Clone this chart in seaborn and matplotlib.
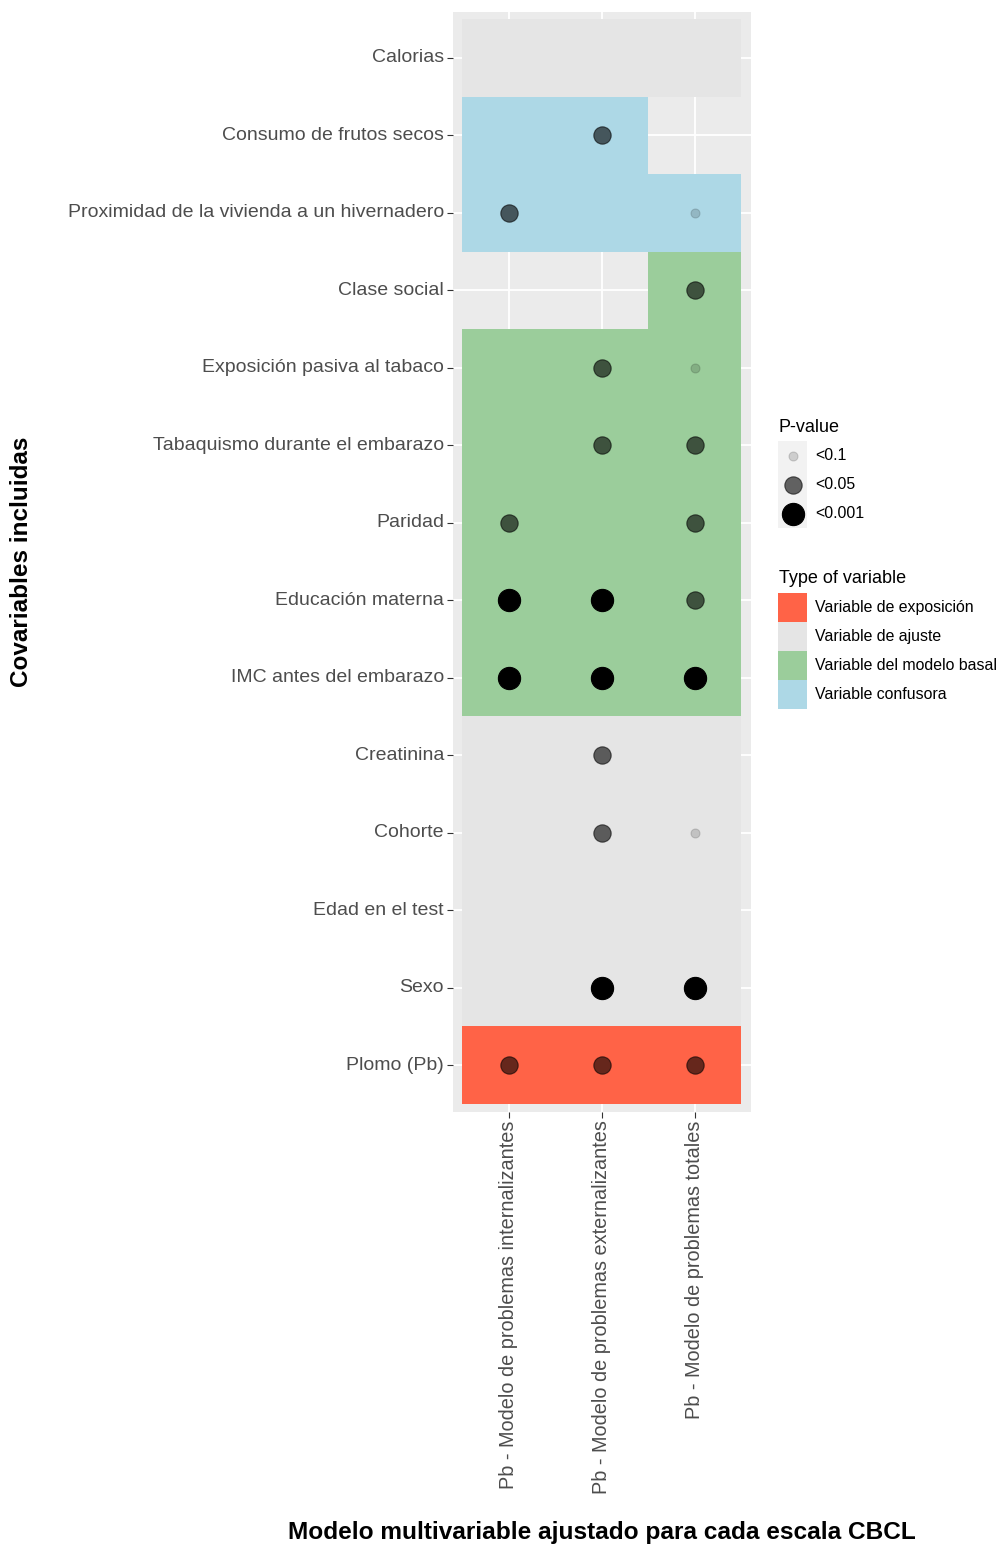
import numpy as np
import pandas as pd
import matplotlib
matplotlib.use("Agg")
import matplotlib.pyplot as plt
from matplotlib.colors import ListedColormap
from matplotlib.patches import Patch
from matplotlib.lines import Line2D
from matplotlib.legend_handler import HandlerTuple, HandlerLine2D
import seaborn as sns

plt.rcParams["font.family"] = ["Liberation Sans", "DejaVu Sans"]

# ---- data -------------------------------------------------------------
covariables = [
    "Calorias",
    "Consumo de frutos secos",
    "Proximidad de la vivienda a un hivernadero",
    "Clase social",
    "Exposición pasiva al tabaco",
    "Tabaquismo durante el embarazo",
    "Paridad",
    "Educación materna",
    "IMC antes del embarazo",
    "Creatinina",
    "Cohorte",
    "Edad en el test",
    "Sexo",
    "Plomo (Pb)",
]

modelos = [
    "Pb - Modelo de problemas internalizantes",
    "Pb - Modelo de problemas externalizantes",
    "Pb - Modelo de problemas totales",
]

tipos = [
    "Variable de exposición",
    "Variable de ajuste",
    "Variable del modelo basal",
    "Variable confusora",
]
colores_tipo = ["#FF6347", "#E5E5E5", "#9BCD9B", "#ADD8E6"]

EXP, AJ, BAS, CONF = tipos
tipo_internalizantes = [AJ, CONF, CONF, None, BAS, BAS, BAS, BAS, BAS, AJ, AJ, AJ, AJ, EXP]
tipo_externalizantes = [AJ, CONF, CONF, None, BAS, BAS, BAS, BAS, BAS, AJ, AJ, AJ, AJ, EXP]
tipo_totales = [AJ, None, CONF, BAS, BAS, BAS, BAS, BAS, BAS, AJ, AJ, AJ, AJ, EXP]

p_internalizantes = [None, None, "<0.05", None, None, None, "<0.05", "<0.001", "<0.001",
                     None, None, None, None, "<0.05"]
p_externalizantes = [None, "<0.05", None, None, "<0.05", "<0.05", None, "<0.001", "<0.001",
                     "<0.05", "<0.05", None, "<0.001", "<0.05"]
p_totales = [None, None, "<0.1", "<0.05", "<0.1", "<0.05", "<0.05", "<0.05", "<0.001",
             None, "<0.1", None, "<0.001", "<0.05"]

niveles_p = ["<0.1", "<0.05", "<0.001"]
tam_p = {"<0.1": 42, "<0.05": 156, "<0.001": 256}
alfa_p = {"<0.1": 0.15, "<0.05": 0.6, "<0.001": 1.0}

# ---- tables -----------------------------------------------------------
tile_df = pd.DataFrame(
    {m: t for m, t in zip(modelos, [tipo_internalizantes, tipo_externalizantes, tipo_totales])},
    index=covariables,
)
codes = tile_df.apply(lambda col: col.map(lambda v: tipos.index(v) if v is not None else np.nan))
codes = codes.astype(float)

pts = []
for j, (m, ps) in enumerate(zip(modelos, [p_internalizantes, p_externalizantes, p_totales])):
    for i, (cov, p) in enumerate(zip(covariables, ps)):
        if p is not None:
            pts.append({"modelo": m, "covariable": cov, "p": p,
                        "x": j + 0.5, "y": i + 0.5})
pts = pd.DataFrame(pts)

# ---- figure -----------------------------------------------------------
W, H = 1003, 1547
fig = plt.figure(figsize=(W / 100, H / 100), dpi=100)
L, R, T, B = 453, 750.5, 11.5, 1111.5
ax = fig.add_axes([L / W, 1 - B / H, (R - L) / W, (B - T) / H])

sns.heatmap(codes, cmap=ListedColormap(colores_tipo), vmin=-0.5, vmax=3.5,
            cbar=False, linewidths=0, ax=ax)

ax.set_facecolor("#EBEBEB")
ax.set_axisbelow(True)
ax.grid(True, color="white", linewidth=1.3)
for s in ax.spines.values():
    s.set_visible(False)

for lvl in niveles_p:
    sub = pts[pts["p"] == lvl]
    sns.scatterplot(data=sub, x="x", y="y", s=tam_p[lvl], color="black",
                    alpha=alfa_p[lvl], edgecolor="black", linewidth=0.8,
                    legend=False, ax=ax, zorder=3)

ax.set_xlim(-0.1, len(modelos) + 0.1)
ax.set_ylim(len(covariables) + 0.1, -0.1)
ax.set_xticks(np.arange(len(modelos)) + 0.5)
ax.set_yticks(np.arange(len(covariables)) + 0.5)
ax.set_xticklabels(modelos, rotation=90, fontsize=14.3, color="#4D4D4D",
                   ha="center", va="top")
ax.set_yticklabels(covariables, rotation=0, fontsize=14, color="#4D4D4D")
ax.tick_params(axis="both", length=4.3, width=0.8, color="#333333", pad=2.2)

ax.set_xlabel("Modelo multivariable ajustado para cada escala CBCL",
              fontsize=17.6, fontweight="bold", color="black", va="center")
ax.set_ylabel("Covariables incluidas", fontsize=17.5, fontweight="bold",
              color="black", va="center")
ax.xaxis.set_label_coords(0.5, (B - 1532) / (B - T))
ax.yaxis.set_label_coords((22 - L) / (R - L), 0.5)


# ---- legends ----------------------------------------------------------
class CenteredMarker(HandlerLine2D):
    """Marker placed in the middle of its key box."""

    def create_artists(self, legend, orig_handle, xdescent, ydescent,
                       width, height, fontsize, trans):
        arts = super().create_artists(legend, orig_handle, xdescent, ydescent,
                                      width, height, fontsize, trans)
        for a in arts:
            a.set_ydata(np.full_like(np.asarray(a.get_ydata(), float),
                                     height / 2 - ydescent))
        return arts


fs = 11.4
px = fs * 100 / 72
key = 29 / px                      # key width in font-size units
key_hh = (key - 0.245) / 0.65      # handleheight giving a 29 px tall key

common = dict(loc="upper left", bbox_transform=fig.transFigure, frameon=False,
              borderpad=0, borderaxespad=0, labelspacing=0, handlelength=key,
              handleheight=key_hh, handletextpad=8 / px, fontsize=fs)

p_handles = [
    (Patch(facecolor="#F2F2F2", edgecolor="none"),
     Line2D([], [], marker="o", linestyle="", markersize=np.sqrt(tam_p[l]),
            markerfacecolor=(0, 0, 0, alfa_p[l]), markeredgecolor=(0, 0, 0, alfa_p[l]),
            markeredgewidth=0.8))
    for l in niveles_p
]
leg1 = fig.legend(p_handles, niveles_p, bbox_to_anchor=(778.5 / W, 1 - 441 / H),
                  numpoints=1,
                  handler_map={tuple: HandlerTuple(ndivide=1, pad=0),
                               Line2D: CenteredMarker()},
                  **common)
fig.text(779 / W, 1 - 432 / H, "P-value", fontsize=13, ha="left", va="baseline")

t_handles = [Patch(facecolor=c, edgecolor="none") for c in colores_tipo]
leg2 = fig.legend(t_handles, tipos, bbox_to_anchor=(778.5 / W, 1 - 593 / H), **common)
fig.text(779 / W, 1 - 583 / H, "Type of variable", fontsize=13, ha="left", va="baseline")

fig.savefig("out.png", dpi=100, facecolor="white")
